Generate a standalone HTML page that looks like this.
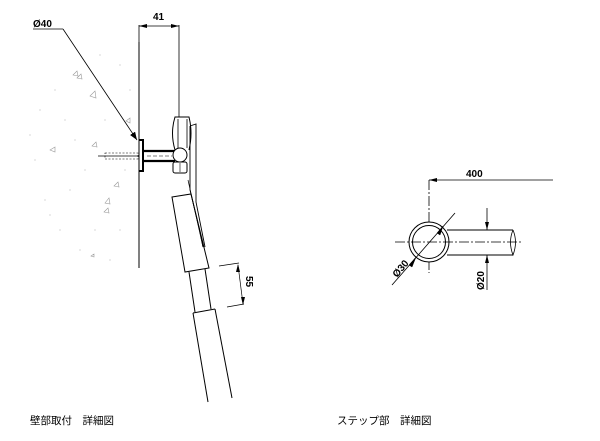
<!DOCTYPE html>
<html><head><meta charset="utf-8"><style>
html,body{margin:0;padding:0;background:#fff;width:600px;height:441px;overflow:hidden}
svg{display:block}
text{font-family:"Liberation Sans","Noto Sans CJK JP",sans-serif}
</style></head><body>
<svg width="600" height="441" viewBox="0 0 600 441" xmlns="http://www.w3.org/2000/svg">
<defs>
<marker id="a" markerWidth="8" markerHeight="6" refX="8" refY="3" orient="auto" markerUnits="userSpaceOnUse"><path d="M0,0 L8,3 L0,6 z" fill="#000"/></marker>
</defs>
<g fill="none" stroke="#999" stroke-width="0.6">
<path d="M73,75l4,-4l1,5z M77,78l4,-4l1,5z M90,96l5,-5l1,7z M126,121l4,-3l0,5z M50,150l5,-3l0,5z M92,146l4,-4l1,5z M114,186l4,-4l1,5z M105,203l4,-5l1,6z M104,212l4,-4l1,5z M91,256l3,-2l0,3z"/>
</g>
<g fill="#bbb">
<circle cx="40" cy="110" r="0.6"/><circle cx="55" cy="90" r="0.6"/><circle cx="65" cy="120" r="0.6"/><circle cx="35" cy="160" r="0.6"/><circle cx="45" cy="200" r="0.6"/><circle cx="60" cy="230" r="0.6"/><circle cx="80" cy="250" r="0.6"/><circle cx="110" cy="260" r="0.6"/><circle cx="120" cy="65" r="0.6"/><circle cx="100" cy="55" r="0.6"/><circle cx="85" cy="170" r="0.6"/><circle cx="70" cy="190" r="0.6"/><circle cx="120" cy="230" r="0.6"/><circle cx="125" cy="170" r="0.6"/><circle cx="105" cy="120" r="0.6"/><circle cx="30" cy="135" r="0.6"/><circle cx="50" cy="215" r="0.6"/><circle cx="95" cy="230" r="0.6"/><circle cx="130" cy="90" r="0.6"/><circle cx="75" cy="140" r="0.6"/>
</g>
<g stroke="#000" fill="none" stroke-width="1">
<line x1="139" y1="42" x2="139" y2="268"/>
<line x1="139" y1="25" x2="139" y2="42" stroke-width="0.8"/>
<line x1="179" y1="25" x2="179" y2="117" stroke-width="0.8"/>
<line x1="139" y1="26" x2="179" y2="26" stroke-width="0.8"/>
<path d="M147,24 L139,26 L147,28z M171,24 L179,26 L171,28z" fill="#000" stroke="none"/>
<line x1="33" y1="29" x2="63" y2="29" stroke-width="0.8"/>
<line x1="63" y1="29" x2="137" y2="140" stroke-width="0.8" marker-end="url(#a)"/>
<path d="M139,140 L143,140 L143,171 L139,171" stroke-width="2"/>
<line x1="143" y1="151" x2="175" y2="151" stroke-width="2.2"/>
<line x1="143" y1="161" x2="175" y2="161" stroke-width="2.2"/>
<line x1="147" y1="156" x2="172" y2="156" stroke-width="0.6" stroke-dasharray="4,2"/>
<line x1="98" y1="156" x2="139" y2="156" stroke-width="0.7"/>
<rect x="105" y="153" width="33" height="6" stroke-width="0.6" stroke-dasharray="2,1.5"/>
<path d="M175,150 Q170,133 175,117 L189,117 Q193,133 189,150" stroke-width="1"/>
<line x1="178" y1="119" x2="178" y2="148" stroke-width="0.8"/>
<line x1="187" y1="119" x2="187" y2="148" stroke-width="0.8"/>
<circle cx="180" cy="155" r="7" fill="#fff"/>
<rect x="173" y="162" width="14" height="11" rx="2" fill="#fff"/>
<line x1="180" y1="163" x2="180" y2="172" stroke-width="0.6"/>
<path d="M190,126 L196,124 L196,202 L205,247" stroke-width="0.9"/>
<path d="M190,126 L190,190 L200,232 L203,247" stroke-width="0.9"/>
<path d="M188,180 L203,247" stroke-width="0.7"/>
<path d="M172,197 L191,194 L209,268 L185,272 Z"/>
<line x1="189" y1="272" x2="195" y2="312"/>
<line x1="205" y1="269" x2="211" y2="309"/>
<line x1="193" y1="313" x2="215" y2="309"/>
<line x1="193" y1="313" x2="208" y2="402"/>
<line x1="215" y1="309" x2="232" y2="398"/>
<line x1="219" y1="266" x2="239" y2="263" stroke-width="0.7"/>
<line x1="227" y1="307" x2="244" y2="304" stroke-width="0.7"/>
<line x1="238" y1="265" x2="243" y2="304" stroke-width="0.7"/>
<path d="M238,264 L236,272 L240,272z M243,305 L241,297 L245,297z" fill="#000" stroke="none"/>
<line x1="429" y1="180" x2="553" y2="180" stroke-width="0.8"/>
<path d="M429,180 L437,178 L437,182z" fill="#000" stroke="none"/>
<line x1="429" y1="180" x2="429" y2="273" stroke-width="0.8" stroke-dasharray="10,2,2,2"/>
<line x1="447" y1="230" x2="513" y2="230"/>
<line x1="447" y1="255" x2="513" y2="255"/>
<path d="M513,230 Q518,242 513,255 Q508,242 513,230" stroke-width="0.8"/>
<circle cx="429" cy="242" r="20" fill="#fff"/>
<circle cx="429" cy="242" r="16.5"/>
<line x1="395" y1="242" x2="522" y2="242" stroke-width="0.7" stroke-dasharray="10,2,2,2"/>
<line x1="392" y1="285" x2="455" y2="213" stroke-width="0.8"/>
<path d="M443,226 L437,233 L440,235z M416,257 L409,265 L412,267z" fill="#000" stroke="#000" stroke-width="0.5"/>
<line x1="487" y1="208" x2="487" y2="230" stroke-width="0.8"/>
<path d="M487,230 L485,222 L489,222z" fill="#000" stroke="none"/>
<line x1="487" y1="255" x2="487" y2="290" stroke-width="0.8"/>
<path d="M487,255 L485,263 L489,263z" fill="#000" stroke="none"/>
</g>
<g font-size="10" font-weight="bold" fill="#000">
<text x="33" y="27">Ø40</text>
<text x="153" y="20">41</text>
<text x="466" y="177">400</text>
<text transform="translate(246,276) rotate(90)">55</text>
<text transform="translate(484,290) rotate(-90)">Ø20</text>
<text transform="translate(397,278) rotate(-50)">Ø30</text>
</g>
<g font-size="10.5" fill="#000">
<text x="30" y="424">壁部取付　詳細図</text>
<text x="337" y="424">ステップ部　詳細図</text>
</g>
</svg>
</body></html>
